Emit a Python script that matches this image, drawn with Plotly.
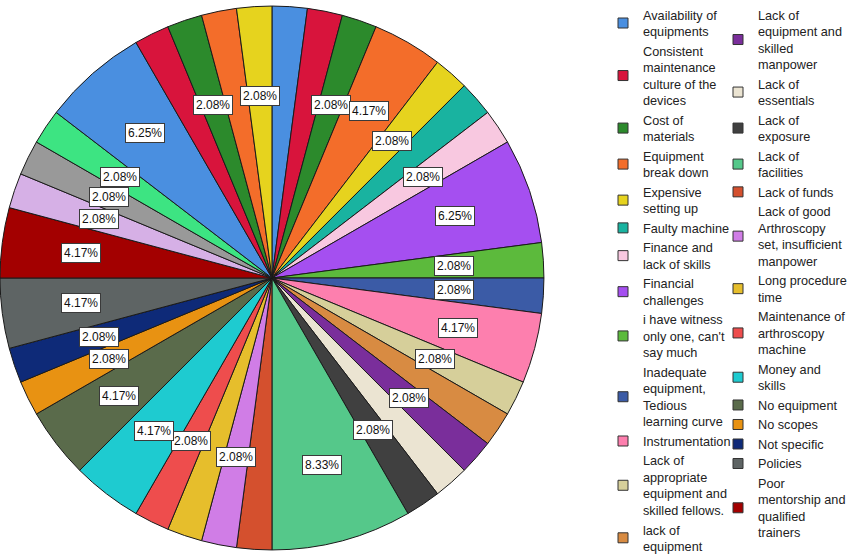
import math
import plotly.graph_objects as go

# ---- data -------------------------------------------------------------
# legend categories (as printed, with the reference's line breaks)
categories = [
    "Availability of<br>equipments",
    "Consistent<br>maintenance<br>culture of the<br>devices",
    "Cost of<br>materials",
    "Equipment<br>break down",
    "Expensive<br>setting up",
    "Faulty machine",
    "Finance and<br>lack of skills",
    "Financial<br>challenges",
    "i have witness<br>only one, can't<br>say much",
    "Inadequate<br>equipment,<br>Tedious<br>learning curve",
    "Instrumentation",
    "Lack of<br>appropriate<br>equipment and<br>skilled fellows.",
    "lack of<br>equipment",
    "Lack of<br>equipment and<br>skilled<br>manpower",
    "Lack of<br>essentials",
    "Lack of<br>exposure",
    "Lack of<br>facilities",
    "Lack of funds",
    "Lack of good<br>Arthroscopy<br>set, insufficient<br>manpower",
    "Long procedure<br>time",
    "Maintenance of<br>arthroscopy<br>machine",
    "Money and<br>skills",
    "No equipment",
    "No scopes",
    "Not specific",
    "Policies",
    "Poor<br>mentorship and<br>qualified<br>trainers",
]
# respondent counts per slice (N = 48); the last 8 slices belong to
# categories whose names are cut off in the reference legend
counts = [1, 1, 1, 2, 1, 1, 1, 3, 1, 1, 2, 1, 1, 1, 1, 1, 4, 1, 1, 1, 1,
          2, 2, 1, 1, 2, 2, 1, 1, 1, 3, 1, 1, 1, 1]
# which slices carry a percentage label in the reference
labelled = [False, False, True, True, True, False, True, True, True, True,
            True, True, False, True, False, True, True, False, True, False,
            True, True, True, True, True, True, True, True, True, True,
            True, False, True, False, True]

palette = [
    "#4a8fe0", "#d8143c", "#2c8a2c", "#f36d2a", "#e6d31e", "#19b3a0",
    "#f8c8e0", "#a54ff0", "#5cba3c", "#3b5ba6", "#fd7fae", "#d6cf9a",
    "#d88b42", "#7a2e9b", "#ebe4d2", "#404040", "#55c88a", "#d4502e",
    "#d07de6", "#e6be2c", "#ee4d4d", "#1ecbd0", "#5a6b4b", "#e89212",
    "#0e2a78", "#5e6464", "#a30000", "#d6b0e6", "#999999", "#3de482",
]

# ---- layout geometry ---------------------------------------------------
W, H = 862, 556
pie_dom_x = [0.0, 0.631]
pie_dom_y = [0.0, 1.0]

total = sum(counts)
colors = [palette[i % len(palette)] for i in range(len(counts))]

fig = go.Figure()
fig.add_trace(go.Pie(
    values=counts,
    sort=False,
    direction="clockwise",
    rotation=0,
    marker=dict(colors=colors, line=dict(color="#1a1a1a", width=1)),
    textinfo="none",
    showlegend=False,
    domain=dict(x=pie_dom_x, y=pie_dom_y),
    hovertemplate="%{percent}<extra></extra>",
))

# percentage labels in white boxes, placed along each slice's mid-angle
cx = W * (pie_dom_x[0] + pie_dom_x[1]) / 2
cy = H * (1 - (pie_dom_y[0] + pie_dom_y[1]) / 2)
r = min(W * (pie_dom_x[1] - pie_dom_x[0]), H * (pie_dom_y[1] - pie_dom_y[0])) / 2
annotations = []
cum = 0
for c, show in zip(counts, labelled):
    mid = 2 * math.pi * (cum + c / 2) / total
    cum += c
    if not show:
        continue
    f = 0.67 if c == 1 else 0.71
    px = cx + f * r * math.sin(mid)
    py = cy - f * r * math.cos(mid)
    annotations.append(dict(
        x=px / W, y=1 - py / H, xref="paper", yref="paper",
        xanchor="center", yanchor="middle",
        text=f"{100 * c / total:.2f}%", showarrow=False,
        font=dict(family="Liberation Sans, Arial", size=12, color="#111"),
        bgcolor="white", bordercolor="#3a3a3a", borderwidth=1, borderpad=2,
    ))

# legend entries (two columns, as in the reference)
split = 13
for i, name in enumerate(categories):
    fig.add_trace(go.Scatter(
        x=[None], y=[None], mode="markers", name=name,
        marker=dict(symbol="square", size=10, color=colors[i],
                    line=dict(color="#333", width=1)),
        legend="legend" if i < split else "legend2",
        hoverinfo="skip",
    ))

legend_style = dict(
    xanchor="left", yanchor="top", y=1.0,
    font=dict(family="Liberation Sans, Arial", size=12.7, color="#222"),
    bgcolor="rgba(0,0,0,0)", tracegroupgap=0, itemclick=False,
    maxheight=3000,
)
fig.update_layout(
    width=W, height=H,
    margin=dict(l=0, r=0, t=0, b=0),
    paper_bgcolor="white", plot_bgcolor="white",
    xaxis=dict(visible=False), yaxis=dict(visible=False),
    legend=dict(x=603 / W, **legend_style),
    legend2=dict(x=718 / W, **legend_style),
    annotations=annotations,
)

fig.write_html("out.html", config={"displayModeBar": False},
               post_script="document.body.style.margin='0';")
